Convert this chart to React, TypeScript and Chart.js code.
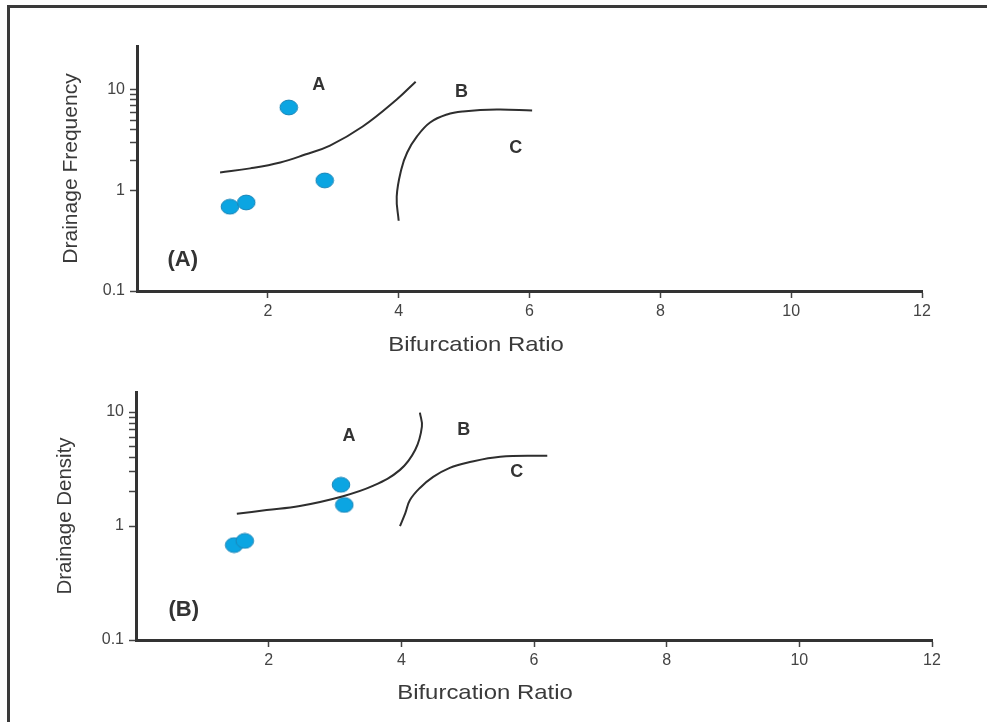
import React, { useEffect, useRef } from "react";
import { Chart, registerables } from "chart.js";

Chart.register(...registerables);

// ---------- data ----------
const xTickValues = [2, 4, 6, 8, 10, 12];
const yTickValues = [0.1, 1, 2, 3, 4, 5, 6, 7, 8, 9, 10];
const yTickLabels = ["0.1", "1", "10"];
const xAxisTitle = "Bifurcation Ratio";
const topYAxisTitle = "Drainage Frequency";
const bottomYAxisTitle = "Drainage Density";

// Panel (A): drainage frequency
const topPointsX = [1.42, 1.67, 2.32, 2.87];
const topPointsY = [0.69, 0.76, 6.7, 1.26];
const topCurveAX = [1.27, 1.73, 2.19, 2.57, 2.95, 3.45, 3.97, 4.26];
const topCurveAY = [1.51, 1.66, 1.9, 2.28, 2.8, 4.33, 8.04, 12.1];
const topCurveBCX = [4.0, 3.97, 4.04, 4.13, 4.28, 4.48, 4.74, 4.98, 5.5, 6.04];
const topCurveBCY = [0.5, 0.87, 1.62, 2.39, 3.45, 4.75, 5.71, 6.11, 6.4, 6.25];
const topLabelTexts = ["A", "B", "C", "(A)"];
const topLabelX = [2.78, 4.96, 5.79, 0.7];
const topLabelY = [11.2, 9.6, 2.67, 0.203];

// Panel (B): drainage density
const bottomPointsX = [1.48, 1.64, 3.09, 3.14];
const bottomPointsY = [0.68, 0.74, 2.3, 1.53];
const bottomCurveAX = [1.52, 1.97, 2.47, 3.08, 3.57, 3.98, 4.21, 4.31, 4.28];
const bottomCurveAY = [1.28, 1.38, 1.5, 1.8, 2.25, 3.11, 4.67, 7.45, 9.9];
const bottomCurveBCX = [3.98, 4.06, 4.13, 4.28, 4.48, 4.73, 4.99, 5.49, 6.2];
const bottomCurveBCY = [1.0, 1.3, 1.69, 2.16, 2.7, 3.24, 3.59, 4.05, 4.14];
const bottomLabelTexts = ["A", "B", "C", "(B)"];
const bottomLabelX = [3.21, 4.94, 5.74, 0.72];
const bottomLabelY = [6.16, 6.95, 2.98, 0.182];

// ---------- helpers ----------
const FONT = '"Liberation Sans", Arial, Helvetica, sans-serif';
const zip = (xs: number[], ys: number[]) => xs.map((x, i) => ({ x, y: ys[i] }));

function makeDot(): HTMLCanvasElement {
  const c = document.createElement("canvas");
  c.width = 20;
  c.height = 17;
  const g = c.getContext("2d")!;
  g.beginPath();
  g.ellipse(10, 8.5, 8.8, 7.4, 0, 0, Math.PI * 2);
  g.fillStyle = "#0ba5e2";
  g.fill();
  g.lineWidth = 1;
  g.strokeStyle = "#1c86b8";
  g.stroke();
  return c;
}

const textPlugin = {
  id: "panelText",
  afterDraw(chart: any, _args: any, opts: any) {
    const { ctx } = chart;
    const xs = chart.scales.x;
    const ys = chart.scales.y;
    ctx.save();
    ctx.fillStyle = "#333";
    ctx.textAlign = "center";
    ctx.textBaseline = "middle";
    opts.texts.forEach((t: string, i: number) => {
      const size = t.length > 1 ? 22 : 18;
      ctx.font = `bold ${size}px ${FONT}`;
      ctx.fillText(t, xs.getPixelForValue(opts.xs[i]), ys.getPixelForValue(opts.ys[i]));
    });
    ctx.fillStyle = "#3a3a3a";
    ctx.font = `${opts.titleSize}px ${FONT}`;
    ctx.translate(opts.titleX, opts.titleY);
    ctx.scale(opts.titleStretch, 1);
    ctx.fillText(opts.title, 0, 0);
    ctx.restore();
  },
};

interface PanelSpec {
  pointsX: number[];
  pointsY: number[];
  curveAX: number[];
  curveAY: number[];
  curveBCX: number[];
  curveBCY: number[];
  labelTexts: string[];
  labelX: number[];
  labelY: number[];
  yTitle: string;
  yTitleSize: number;
  yTitlePad: number;
  yMax: number;
  padTop: number;
  padRight: number;
  yAxisWidth: number;
  xAxisHeight: number;
  xTitleX: number;
  xTitleY: number;
}

function makeConfig(p: PanelSpec): any {
  const lineStyle = {
    showLine: true,
    borderColor: "#2e2e2e",
    borderWidth: 2,
    pointRadius: 0,
    tension: 0.4,
    fill: false,
  };
  return {
    type: "scatter",
    data: {
      datasets: [
        { label: "Boundary A", data: zip(p.curveAX, p.curveAY), ...lineStyle },
        { label: "Boundary B/C", data: zip(p.curveBCX, p.curveBCY), ...lineStyle },
        {
          label: "Basins",
          data: zip(p.pointsX, p.pointsY),
          pointStyle: makeDot(),
          pointRadius: 9,
          showLine: false,
        },
      ],
    },
    options: {
      responsive: false,
      animation: false,
      events: [],
      layout: { padding: { top: p.padTop, right: p.padRight, left: 0, bottom: 0 } },
      plugins: {
        legend: { display: false },
        tooltip: { enabled: false },
        panelText: {
          texts: p.labelTexts,
          xs: p.labelX,
          ys: p.labelY,
          title: xAxisTitle,
          titleSize: 21,
          titleStretch: 1.14,
          titleX: p.xTitleX,
          titleY: p.xTitleY,
        },
      },
      scales: {
        x: {
          type: "linear",
          min: 0,
          max: 12,
          afterBuildTicks: (scale: any) => {
            scale.ticks = xTickValues.map((v) => ({ value: v }));
          },
          afterFit: (scale: any) => {
            scale.height = p.xAxisHeight;
          },
          ticks: {
            autoSkip: false,
            maxRotation: 0,
            padding: 4,
            color: "#444",
            font: { family: FONT, size: 16 },
            callback: (v: number) => String(v),
          },
          grid: {
            display: true,
            drawOnChartArea: false,
            drawTicks: true,
            tickLength: 7,
            tickWidth: 1.5,
            tickColor: "#444",
          },
          border: { display: true, color: "#333", width: 3 },
          title: { display: false },
        },
        y: {
          type: "logarithmic",
          min: 0.1,
          max: p.yMax,
          afterBuildTicks: (scale: any) => {
            scale.ticks = yTickValues.map((v) => ({ value: v, major: false }));
          },
          afterFit: (scale: any) => {
            scale.width = p.yAxisWidth;
          },
          ticks: {
            autoSkip: false,
            padding: 5,
            color: "#444",
            font: { family: FONT, size: 16 },
            callback: (v: number) => (yTickLabels.includes(String(v)) ? String(v) : ""),
          },
          grid: {
            display: true,
            drawOnChartArea: false,
            drawTicks: true,
            tickLength: 7,
            tickWidth: 1.5,
            tickColor: "#444",
          },
          border: { display: true, color: "#333", width: 3 },
          title: {
            display: true,
            text: p.yTitle,
            color: "#3a3a3a",
            font: { family: FONT, size: p.yTitleSize },
            padding: { top: p.yTitlePad, bottom: 0 },
          },
        },
      },
    },
    plugins: [textPlugin],
  };
}

const topSpec: PanelSpec = {
  pointsX: topPointsX,
  pointsY: topPointsY,
  curveAX: topCurveAX,
  curveAY: topCurveAY,
  curveBCX: topCurveBCX,
  curveBCY: topCurveBCY,
  labelTexts: topLabelTexts,
  labelX: topLabelX,
  labelY: topLabelY,
  yTitle: topYAxisTitle,
  yTitleSize: 21,
  yTitlePad: 59,
  yMax: 27.4,
  padTop: 46,
  padRight: 65,
  yAxisWidth: 137,
  xAxisHeight: 70,
  xTitleX: 476,
  xTitleY: 345,
};

const bottomSpec: PanelSpec = {
  pointsX: bottomPointsX,
  pointsY: bottomPointsY,
  curveAX: bottomCurveAX,
  curveAY: bottomCurveAY,
  curveBCX: bottomCurveBCX,
  curveBCY: bottomCurveBCY,
  labelTexts: bottomLabelTexts,
  labelX: bottomLabelX,
  labelY: bottomLabelY,
  yTitle: bottomYAxisTitle,
  yTitleSize: 20.5,
  yTitlePad: 53,
  yMax: 15,
  padTop: 31,
  padRight: 55,
  yAxisWidth: 136,
  xAxisHeight: 82,
  xTitleX: 485,
  xTitleY: 332,
};

function Panel({ spec, top }: { spec: PanelSpec; top: number }) {
  const ref = useRef<HTMLCanvasElement>(null);
  useEffect(() => {
    if (!ref.current) return;
    const chart = new Chart(ref.current, makeConfig(spec));
    return () => chart.destroy();
  }, [spec]);
  return (
    <canvas
      ref={ref}
      width={987}
      height={361}
      style={{ position: "absolute", left: 0, top, width: 987, height: 361 }}
    />
  );
}

export default function App() {
  return (
    <div
      style={{
        position: "absolute",
        left: 0,
        top: 0,
        width: 987,
        height: 722,
        overflow: "hidden",
        background: "#fff",
      }}
    >
      <div
        style={{
          position: "absolute",
          left: 7,
          top: 5,
          width: 1100,
          height: 1000,
          border: "3px solid #3a3a3a",
        }}
      />
      <Panel spec={topSpec} top={0} />
      <Panel spec={bottomSpec} top={361} />
    </div>
  );
}
